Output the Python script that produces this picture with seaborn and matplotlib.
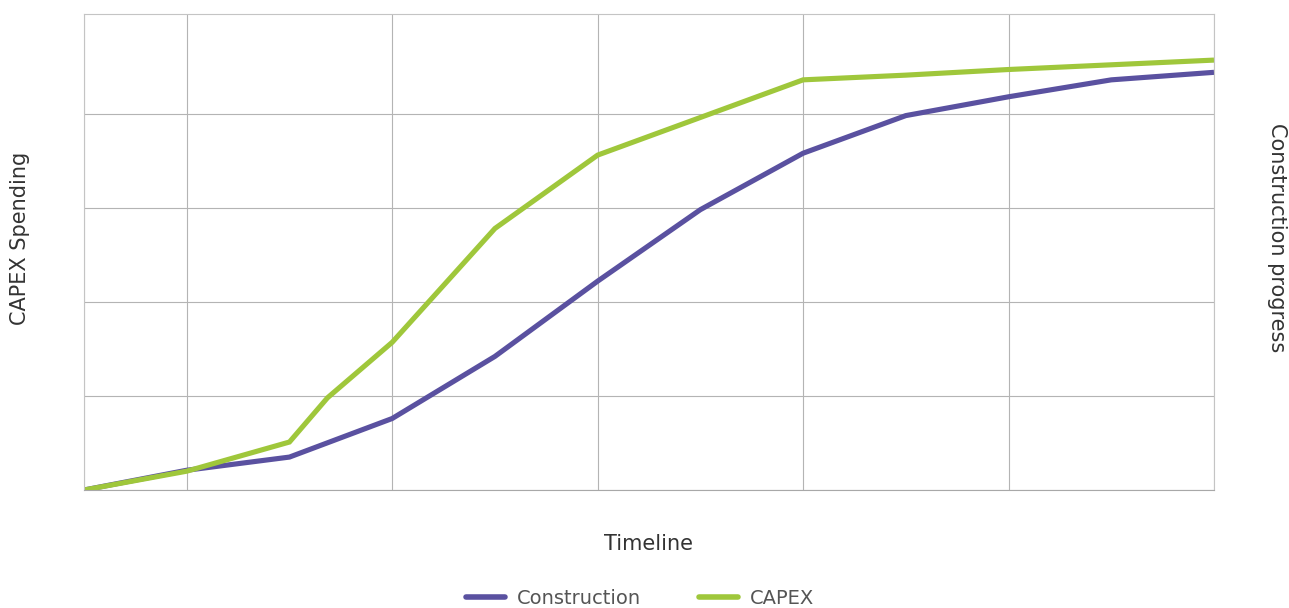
import numpy as np
import pandas as pd
import matplotlib
matplotlib.use("Agg")
import matplotlib.pyplot as plt
import seaborn as sns

# Timeline positions (periods) and cumulative values for each series
construction_x = [0, 1, 2, 3, 4, 5, 6, 7, 8, 9, 10, 11]
construction_y = [0.0, 0.21, 0.35, 0.76, 1.42, 2.22, 2.98, 3.58, 3.98, 4.18, 4.36, 4.44]

capex_x = [0, 1, 2, 2.37, 3, 4, 5, 6, 7, 8, 9, 10, 11]
capex_y = [0.0, 0.20, 0.51, 0.98, 1.57, 2.78, 3.56, 3.96, 4.36, 4.41, 4.47, 4.52, 4.57]

series_names = ["Construction", "CAPEX"]
series_colors = ["#5a51a0", "#9fc73b"]

grid_x = [0, 1, 3, 5, 7, 9, 11]
grid_y = [0, 1, 2, 3, 4]

df = pd.concat([
    pd.DataFrame({"period": construction_x, "value": construction_y, "series": series_names[0]}),
    pd.DataFrame({"period": capex_x, "value": capex_y, "series": series_names[1]}),
], ignore_index=True)

sns.set_theme(style="white")
plt.rcParams["font.family"] = ["DejaVu Sans"]

W, H = 1289, 608
fig = plt.figure(figsize=(W / 100, H / 100), dpi=100)
left, right, top, bottom = 84, 1214, 14, 490
ax = fig.add_axes([left / W, 1 - bottom / H, (right - left) / W, (bottom - top) / H])

sns.lineplot(data=df, x="period", y="value", hue="series", hue_order=series_names,
             palette=series_colors, linewidth=3.7, ax=ax, legend=False,
             solid_capstyle="butt", solid_joinstyle="miter")

ax.set_xlim(0, 11)
ax.set_ylim(0, 5.06)
ax.set_xticks(grid_x)
ax.set_yticks(grid_y)
ax.set_xticklabels([])
ax.set_yticklabels([])
ax.tick_params(length=0)
ax.grid(True, color="#b4b4b4", linewidth=0.8)
ax.set_axisbelow(True)
for s in ax.spines.values():
    s.set_visible(True)
    s.set_color("#c4c4c4")
    s.set_linewidth(0.8)
ax.spines["bottom"].set_color("#a8a8a8")

text_color = "#333333"
ax.set_xlabel("Timeline", fontsize=15, color=text_color)
ax.xaxis.label.set_va("center")
ax.xaxis.set_label_coords(0.5, (bottom - 544) / (bottom - top))
ax.set_ylabel("CAPEX Spending", fontsize=15, color=text_color)
ax.yaxis.label.set_va("center")
ax.yaxis.set_label_coords((20 - left) / (right - left), (bottom - 238) / (bottom - top))
ax.text((1277 - left) / (right - left), (bottom - 238) / (bottom - top), "Construction progress",
        transform=ax.transAxes, rotation=270, ha="center", va="center",
        fontsize=15, color=text_color)

handles = [plt.Line2D([], [], color=c, linewidth=4, solid_capstyle="round") for c in series_colors]
fig.legend(handles, series_names, loc="center", bbox_to_anchor=(640 / W, 1 - 598 / H),
           ncol=2, frameon=False, fontsize=14, handlelength=2.0, handletextpad=0.6,
           columnspacing=3.0, labelcolor="#555555")

fig.savefig("out.png", dpi=100, facecolor="white")
